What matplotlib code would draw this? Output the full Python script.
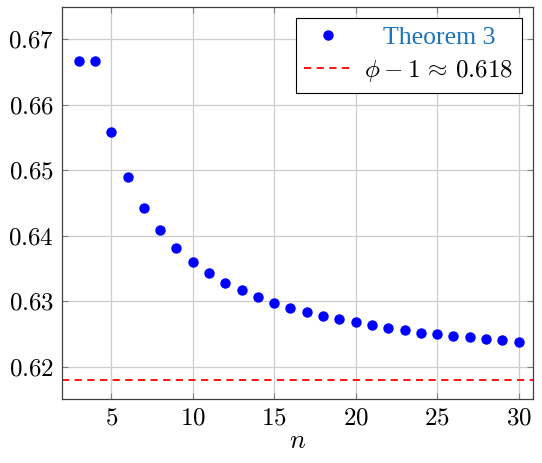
import numpy as np
import matplotlib
matplotlib.use("Agg")
from matplotlib import pyplot as plt
from matplotlib.font_manager import FontProperties

plt.rcParams['font.family'] = 'serif'
plt.rcParams['font.serif'] = ['cmr10', 'DejaVu Serif']
plt.rcParams['mathtext.fontset'] = 'cm'
plt.rcParams['axes.formatter.use_mathtext'] = True

# values
n = list(range(3, 31))
ratio = [0.6667, 0.6667, 0.6559, 0.6490, 0.6442, 0.6408, 0.6381, 0.6360,
         0.6343, 0.6328, 0.6317, 0.6307, 0.6297, 0.6290, 0.6284, 0.6278,
         0.6272, 0.6268, 0.6263, 0.6259, 0.6256, 0.6252, 0.6250, 0.6247,
         0.6245, 0.6242, 0.6240, 0.6238]
phi_minus_one = 0.618
xticks = [5, 10, 15, 20, 25, 30]
yticks = [0.62, 0.63, 0.64, 0.65, 0.66, 0.67]

fig = plt.figure(figsize=(5.42, 4.63), dpi=100)
ax = fig.add_axes([0.115, 0.1376, 0.869, 0.848])

ax.plot(n, ratio, 'o', color='#0000ff', markersize=7.5, markeredgewidth=0,
        label='   Theorem 3', zorder=3)
ax.axhline(phi_minus_one, color='#ff0000', linestyle=(0, (4, 3)), linewidth=1.3,
           label=r'$\phi - 1 \,\approx\, 0.618$', zorder=2)

ax.set_xlim(2.0, 30.9)
ax.set_ylim(0.615, 0.675)
ax.set_xticks(xticks)
ax.set_yticks(yticks)
ax.set_xticklabels([f'${v}$' for v in xticks])
ax.set_yticklabels([f'${v:.2f}$' for v in yticks])
ax.grid(True, color='#cccccc', linewidth=0.9)
ax.set_axisbelow(True)
ax.tick_params(direction='in', length=4, width=0.8, color='#808080',
               labelsize=18, top=True, right=True, pad=6)
for s in ax.spines.values():
    s.set_color('#404040')
    s.set_linewidth(0.9)
ax.set_xlabel('$n$', fontsize=19, labelpad=0)

leg = ax.legend(loc='upper right', fontsize=18, frameon=True, fancybox=False,
                framealpha=1, edgecolor='black', borderaxespad=0.45,
                handlelength=1.9, handletextpad=0.5, borderpad=0.35,
                labelspacing=0.35)
leg.get_frame().set_linewidth(0.8)
t = leg.get_texts()[0]
t.set_color('#1a74c0')
t.set_fontproperties(FontProperties(family='Liberation Serif', size=18.5))

fig.savefig('out.png', dpi=100)
